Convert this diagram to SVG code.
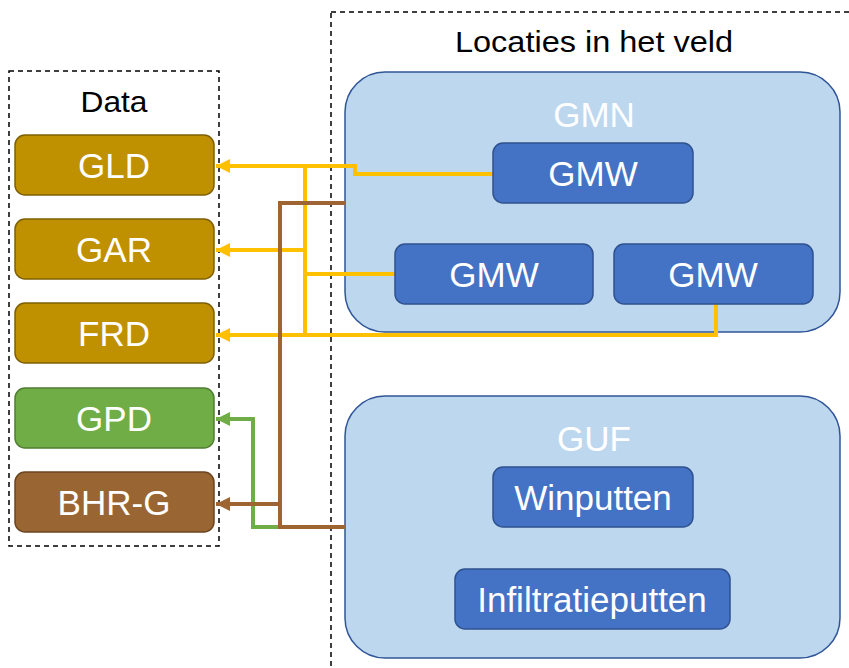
<svg xmlns="http://www.w3.org/2000/svg" width="849" height="668" viewBox="0 0 849 668">
<defs>
<style>
.dash{fill:none;stroke:#000;stroke-width:1.5;stroke-dasharray:5,4}
.cont{fill:#BDD7EE;stroke:#2F5597;stroke-width:1.5}
.blue{fill:#4472C4;stroke:#2F528F;stroke-width:1.5}
.gold{fill:#BF9000;stroke:#7F6000;stroke-width:1.5}
.green{fill:#70AD47;stroke:#507E32;stroke-width:1.5}
.brown{fill:#996633;stroke:#6B4420;stroke-width:1.5}
.lbl{font-family:"Liberation Sans",Arial,sans-serif;font-size:35px;fill:#fff;text-anchor:middle}
.ttl{font-family:"Liberation Sans",Arial,sans-serif;font-size:29px;fill:#000;text-anchor:middle}
.y{fill:none;stroke:#FFC000;stroke-width:4}
.b{fill:none;stroke:#9E6532;stroke-width:4}
.g{fill:none;stroke:#70AD47;stroke-width:4}
</style>
<marker id="ay" viewBox="0 0 10 10" refX="10" refY="5" markerWidth="4" markerHeight="3.5" orient="auto" markerUnits="strokeWidth"><path d="M0,0 L10,5 L0,10 Z" fill="#FFC000"/></marker>
<marker id="ab" viewBox="0 0 10 10" refX="10" refY="5" markerWidth="4" markerHeight="3.5" orient="auto" markerUnits="strokeWidth"><path d="M0,0 L10,5 L0,10 Z" fill="#9E6532"/></marker>
<marker id="ag" viewBox="0 0 10 10" refX="10" refY="5" markerWidth="4" markerHeight="3.5" orient="auto" markerUnits="strokeWidth"><path d="M0,0 L10,5 L0,10 Z" fill="#70AD47"/></marker>
</defs>
<rect width="849" height="668" fill="#fff"/>
<g id="data-group">
<rect class="dash" x="9" y="71" width="210" height="475"/>
<text class="ttl" x="114" y="112" textLength="67" lengthAdjust="spacingAndGlyphs">Data</text>
</g>
<g id="locaties-group">
<rect class="dash" x="331" y="12" width="530" height="670"/>
<text class="ttl" x="594" y="52" textLength="278" lengthAdjust="spacingAndGlyphs">Locaties in het veld</text>
</g>
<g id="gmn">
<rect class="cont" x="345" y="72" width="495" height="260" rx="40"/>
<text class="lbl" x="594" y="127">GMN</text>
</g>
<g id="guf">
<rect class="cont" x="345" y="396" width="495" height="262" rx="40"/>
<text class="lbl" x="594" y="451">GUF</text>
</g>
<g id="connectors">
<polyline class="y" points="493,174 355,174 355,166 216,166" marker-end="url(#ay)"/>
<polyline class="y" points="305,166 305,335"/>
<polyline class="y" points="305,250 216,250" marker-end="url(#ay)"/>
<polyline class="y" points="395,274 305,274"/>
<polyline class="y" points="716,304 716,335 216,335" marker-end="url(#ay)"/>
<polyline class="g" points="280,527 253,527 253,419 216,419" marker-end="url(#ag)"/>
<polyline class="b" points="345,203 280,203 280,527 345,527"/>
<polyline class="b" points="280,504 216,504" marker-end="url(#ab)"/>
</g>
<g id="gld"><rect class="gold" x="15" y="135" width="199" height="60" rx="10"/><text class="lbl" x="114" y="178">GLD</text></g>
<g id="gar"><rect class="gold" x="15" y="219" width="199" height="60" rx="10"/><text class="lbl" x="114" y="262">GAR</text></g>
<g id="frd"><rect class="gold" x="15" y="303" width="199" height="60" rx="10"/><text class="lbl" x="114" y="346">FRD</text></g>
<g id="gpd"><rect class="green" x="15" y="388" width="199" height="60" rx="10"/><text class="lbl" x="114" y="431">GPD</text></g>
<g id="bhrg"><rect class="brown" x="15" y="472" width="199" height="60" rx="10"/><text class="lbl" x="114" y="515">BHR-G</text></g>
<g id="gmw1"><rect class="blue" x="493" y="143" width="200" height="60" rx="10"/><text class="lbl" x="593" y="186">GMW</text></g>
<g id="gmw2"><rect class="blue" x="395" y="244" width="198" height="60" rx="10"/><text class="lbl" x="494" y="287">GMW</text></g>
<g id="gmw3"><rect class="blue" x="614" y="244" width="199" height="60" rx="10"/><text class="lbl" x="713" y="287">GMW</text></g>
<g id="winputten"><rect class="blue" x="493" y="467" width="200" height="60" rx="10"/><text class="lbl" x="593" y="510">Winputten</text></g>
<g id="infiltratieputten"><rect class="blue" x="455" y="569" width="275" height="60" rx="10"/><text class="lbl" x="592" y="612">Infiltratieputten</text></g>
</svg>
